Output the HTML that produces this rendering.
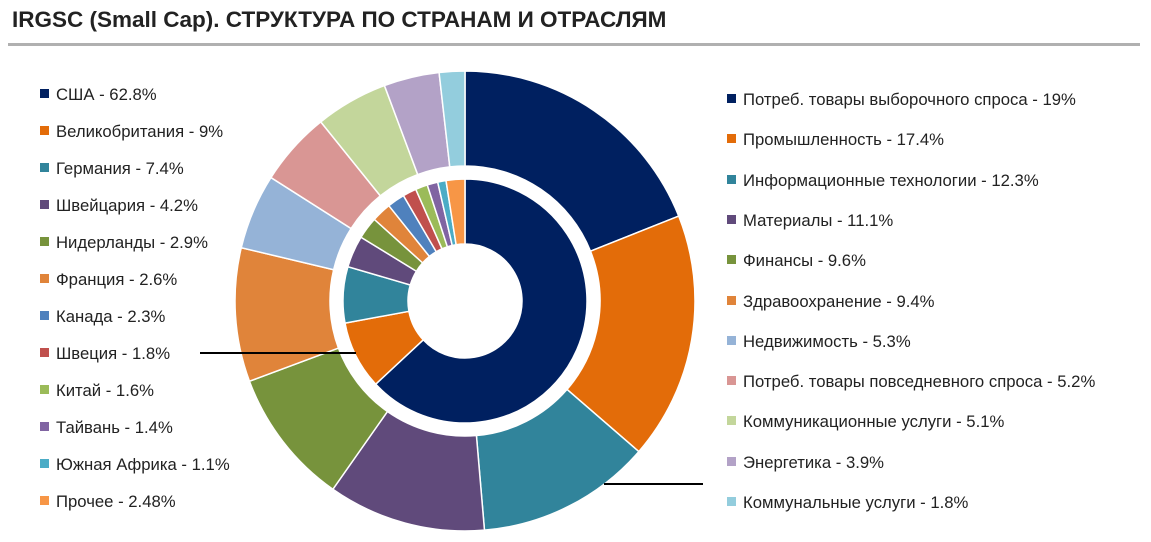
<!DOCTYPE html>
<html><head><meta charset="utf-8"><style>
body{margin:0;width:1151px;height:542px;background:#fff;overflow:hidden;font-family:"Liberation Sans",sans-serif;position:relative}
.t{position:absolute;left:12px;top:7px;font-size:22.5px;font-weight:bold;color:#222}
.hr{position:absolute;left:8px;top:43px;width:1132px;height:3px;background:#b0b0b0}
.lg{position:absolute;font-size:16.7px;color:#222;white-space:nowrap}
.lg i{display:inline-block;width:9px;height:9px;margin-right:7px;vertical-align:2px}
</style></head><body>
<div class="t">IRGSC (Small Cap). СТРУКТУРА ПО СТРАНАМ И ОТРАСЛЯМ</div>
<div class="hr"></div>
<svg id="s" width="1151" height="542" style="position:absolute;left:0;top:0"></svg>
<div id="L"></div>
<script>
var cx=465,cy=301;
function arc(r0,r1,a0,a1){var f=function(r,a){a=(a-90)*Math.PI/180;return (cx+r*Math.cos(a)).toFixed(2)+","+(cy+r*Math.sin(a)).toFixed(2)};var l=(a1-a0)>180?1:0;
return "M"+f(r1,a0)+"A"+r1+","+r1+" 0 "+l+" 1 "+f(r1,a1)+"L"+f(r0,a1)+"A"+r0+","+r0+" 0 "+l+" 0 "+f(r0,a0)+"Z";}
var outer=[["Потреб. товары выборочного спроса - 19%",19,"#002060"],["Промышленность - 17.4%",17.4,"#E36C09"],["Информационные технологии - 12.3%",12.3,"#31849B"],["Материалы - 11.1%",11.1,"#604A7B"],["Финансы - 9.6%",9.6,"#77933C"],["Здравоохранение - 9.4%",9.4,"#E0843A"],["Недвижимость - 5.3%",5.3,"#95B3D7"],["Потреб. товары повседневного спроса - 5.2%",5.2,"#D99694"],["Коммуникационные услуги - 5.1%",5.1,"#C3D69B"],["Энергетика - 3.9%",3.9,"#B3A2C7"],["Коммунальные услуги - 1.8%",1.8,"#93CDDD"]];
var inner=[["США - 62.8%",62.8,"#002060"],["Великобритания - 9%",9,"#E36C09"],["Германия - 7.4%",7.4,"#31849B"],["Швейцария - 4.2%",4.2,"#604A7B"],["Нидерланды - 2.9%",2.9,"#77933C"],["Франция - 2.6%",2.6,"#E0843A"],["Канада - 2.3%",2.3,"#4F81BD"],["Швеция - 1.8%",1.8,"#C0504D"],["Китай - 1.6%",1.6,"#9BBB59"],["Тайвань - 1.4%",1.4,"#8064A2"],["Южная Африка - 1.1%",1.1,"#4BACC6"],["Прочее - 2.48%",2.48,"#F79646"]];
var h="";
function ring(d,r0,r1){var t=0;d.forEach(function(x){t+=x[1]});var a=0;d.forEach(function(x){var b=a+x[1]/t*360;h+='<path d="'+arc(r0,r1,a,b)+'" fill="'+x[2]+'" stroke="#fff" stroke-width="1.5"/>';a=b;});}
ring(outer,135,230);ring(inner,57,122);
h+='<line x1="200" y1="353" x2="356" y2="353" stroke="#000" stroke-width="2"/><line x1="604" y1="484" x2="703" y2="484" stroke="#000" stroke-width="2"/>';
document.getElementById("s").innerHTML=h;
var L="";
inner.forEach(function(x,i){L+='<div class="lg" style="left:40px;top:'+(85+i*37)+'px"><i style="background:'+x[2]+'"></i>'+x[0]+'</div>'});
outer.forEach(function(x,i){L+='<div class="lg" style="left:727px;top:'+(90+i*40.3)+'px"><i style="background:'+x[2]+'"></i>'+x[0]+'</div>'});
document.getElementById("L").innerHTML=L;
</script>
</body></html>
